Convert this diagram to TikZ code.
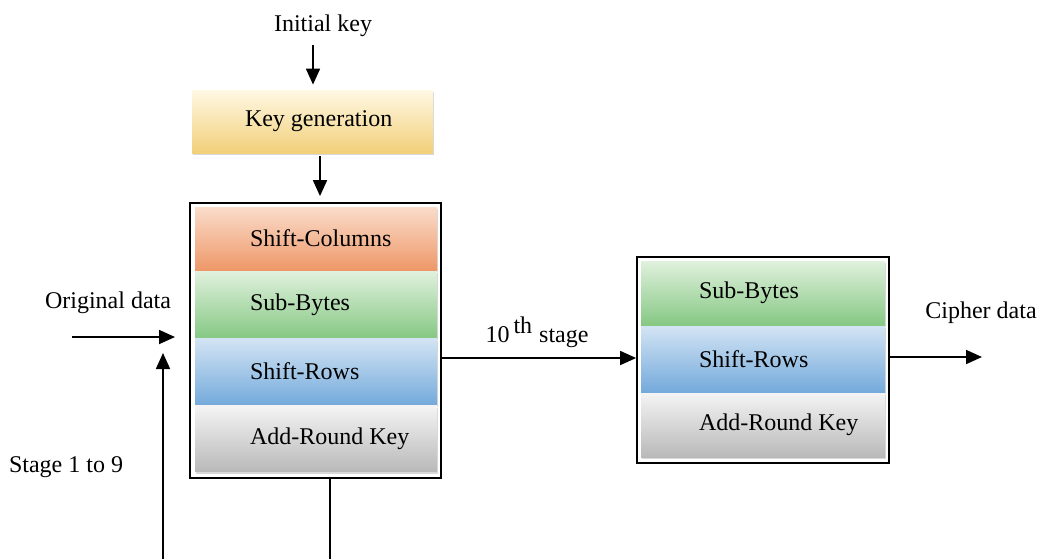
\documentclass[tikz,border=0pt]{standalone}
\usepackage{fontspec}
\setmainfont{Liberation Serif}
\usetikzlibrary{arrows.meta,shadows}
\definecolor{yelT}{HTML}{FFF8E4}\definecolor{yelB}{HTML}{F2D07A}
\definecolor{orT}{HTML}{FADCCB}\definecolor{orB}{HTML}{EE9868}
\definecolor{grT}{HTML}{E0F1DD}\definecolor{grB}{HTML}{86C884}
\definecolor{blT}{HTML}{D3E4F4}\definecolor{blB}{HTML}{74AADB}
\definecolor{gyT}{HTML}{F4F4F4}\definecolor{gyB}{HTML}{B9B9B9}
\tikzset{
  txt/.style={font=\fontsize{12}{14}\selectfont, inner sep=1pt},
  band/.style={rectangle, draw=none, inner sep=0pt,
    drop shadow={shadow xshift=0.6pt, shadow yshift=-1pt, opacity=0.3}},
  outer/.style={rectangle, draw=black, line width=0.9pt, inner sep=0pt},
  arr/.style={line width=0.9pt, -{Triangle[length=8pt,width=7pt]}},
  ln/.style={line width=0.9pt},
  orangeb/.style={band, top color=orT, bottom color=orB},
  greenb/.style={band, top color=grT, bottom color=grB},
  blueb/.style={band, top color=blT, bottom color=blB},
  grayb/.style={band, top color=gyT, bottom color=gyB},
  yellowb/.style={band, top color=yelT, bottom color=yelB},
}
\begin{document}
\begin{tikzpicture}[x=0.5pt,y=-0.5pt]
\useasboundingbox (0,0) rectangle (1040,559);

% texts
\node[txt] (ik) at (323,26) {Initial key};
\node[txt] (od) at (108,303) {Original data};
\node[txt] (st) at (66,467) {Stage 1 to 9};
\node[txt] (tenth) at (537,332) {10\,\textsuperscript{\large th} stage};
\node[txt] (cd) at (981,313) {Cipher data};

% key generation
\node[yellowb, minimum width=120.5pt, minimum height=31.5pt,
  label={[txt,anchor=west,xshift=25.5pt]west:Key generation}] (kg) at (312.5,121.5) {};

% left box
\node[outer, minimum width=125.5pt, minimum height=137.5pt] (box1) at (315.5,340.5) {};
\node[orangeb, minimum width=121pt, minimum height=31.5pt,
  label={[txt,anchor=west,xshift=26.5pt]west:Shift-Columns}] (sc) at (316,238.5) {};
\node[greenb, minimum width=121pt, minimum height=33.5pt,
  label={[txt,anchor=west,xshift=26.5pt]west:Sub-Bytes}] (sb1) at (316,304.5) {};
\node[blueb, minimum width=121pt, minimum height=33pt,
  label={[txt,anchor=west,xshift=26.5pt]west:Shift-Rows}] (sr1) at (316,371.5) {};
\node[grayb, minimum width=121pt, minimum height=33pt,
  label={[txt,anchor=west,xshift=26.5pt]west:Add-Round Key}] (ar1) at (316,438.5) {};

% right box
\node[outer, minimum width=126pt, minimum height=103pt] (box2) at (763,360) {};
\node[greenb, minimum width=122pt, minimum height=32pt,
  label={[txt,anchor=west,xshift=28pt]west:Sub-Bytes}] (sb2) at (763,293) {};
\node[blueb, minimum width=122pt, minimum height=33pt,
  label={[txt,anchor=west,xshift=28pt]west:Shift-Rows}] (sr2) at (763,359) {};
\node[grayb, minimum width=122pt, minimum height=32pt,
  label={[txt,anchor=west,xshift=28pt]west:Add-Round Key}] (ar2) at (763,425) {};

% connectors
\coordinate (ika) at (313,45);
\draw[arr, shorten >=2.5pt] (ika) -- (ika |- kg.north);
\coordinate (kga) at (320,156);
\draw[arr, shorten >=3pt] (kga) -- (kga |- box1.north);
\coordinate (oda) at (72,337);
\coordinate (odb) at (175,337);
\draw[arr] (oda) -- (odb);
\coordinate (upa) at (163,559);
\coordinate (upb) at (163,353);
\draw[arr] (upa) -- (upb);
\coordinate (dn) at (330,559);
\draw[ln] (dn |- box1.south) -- (dn);
\coordinate (mid) at (441,358);
\draw[arr] (mid) -- (mid -| box2.west);
\coordinate (outa) at (982,357);
\draw[arr] (outa -| box2.east) -- (outa);
\end{tikzpicture}
\end{document}
